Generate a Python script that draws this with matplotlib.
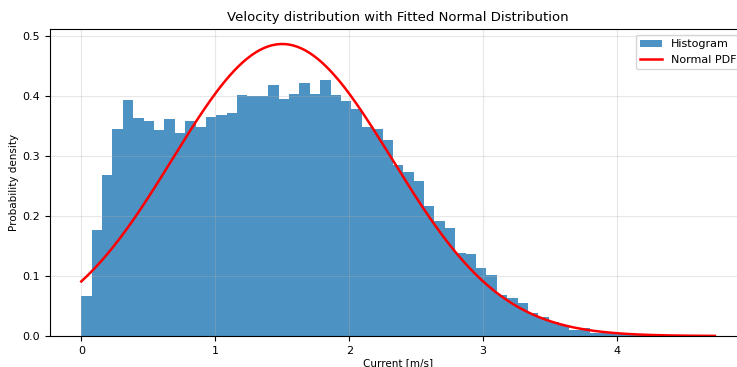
import numpy as np
import matplotlib
matplotlib.use("Agg")
import matplotlib.pyplot as plt

# histogram (density per bin), 61 bins from 0 to max speed
V_MAX = 4.73
N_BINS = 61
density = [
    0.067, 0.176, 0.269, 0.345, 0.393, 0.363, 0.358, 0.344, 0.362, 0.339,
    0.358, 0.349, 0.366, 0.369, 0.372, 0.402, 0.401, 0.400, 0.418, 0.396,
    0.403, 0.422, 0.403, 0.427, 0.402, 0.392, 0.379, 0.349, 0.346, 0.327,
    0.286, 0.273, 0.258, 0.217, 0.192, 0.180, 0.139, 0.136, 0.113, 0.102,
    0.069, 0.063, 0.055, 0.039, 0.032, 0.024, 0.018, 0.010, 0.013, 0.0045,
    0.006, 0.004, 0.003, 0.001, 0.001, 0.0005, 0.0005, 0.0003, 0.0002, 0.0,
    0.0002,
]

# fitted normal parameters
mu = 1.50
sigma = 0.819

edges = np.linspace(0, V_MAX, N_BINS + 1)
x = np.linspace(0, V_MAX, 300)
pdf = np.exp(-(x - mu) ** 2 / (2 * sigma ** 2)) / (sigma * np.sqrt(2 * np.pi))

fig = plt.figure(figsize=(7.37, 3.67), dpi=100)
ax = fig.add_axes([49.6 / 737, 31 / 367, 697 / 737, 306.6 / 367])

ax.hist(edges[:-1], bins=edges, weights=density, color='tab:blue', alpha=0.8,
        label='Histogram')
ax.plot(x, pdf, color='red', lw=1.8, label='Normal PDF')

ax.set_title('Velocity distribution with Fitted Normal Distribution', fontsize=9.5)
ax.set_xlabel('Current [m/s]', fontsize=7.5, labelpad=1.5)
ax.set_ylabel('Probability density', fontsize=7.5, labelpad=2.5)
ax.tick_params(labelsize=8)
ax.grid(alpha=0.3)
ax.legend(loc='upper right', fontsize=8)

fig.savefig('out.png', dpi=100)
